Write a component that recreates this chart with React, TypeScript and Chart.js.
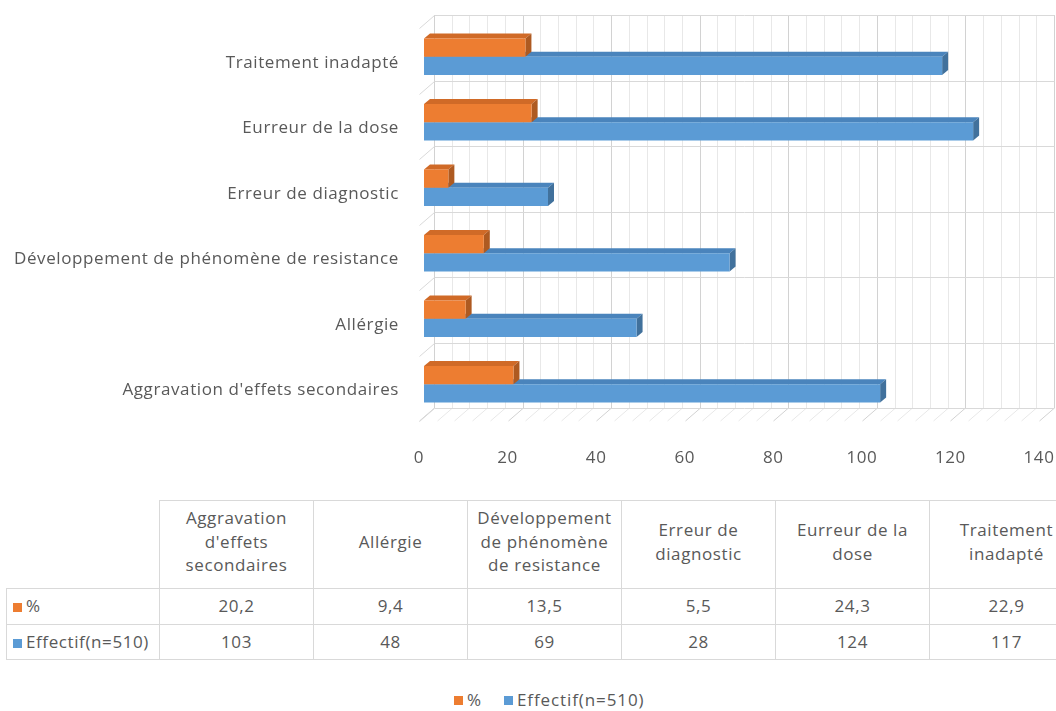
import React, { useEffect, useRef } from "react";
import { Chart, registerables } from "chart.js";

Chart.register(...registerables);

// ---------- data ----------
const categories = [
  "Aggravation d'effets secondaires",
  "Allérgie",
  "Développement de phénomène de resistance",
  "Erreur de diagnostic",
  "Eurreur de la dose",
  "Traitement inadapté",
];
const headerLines = [
  ["Aggravation", "d'effets", "secondaires"],
  ["Allérgie"],
  ["Développement", "de phénomène", "de resistance"],
  ["Erreur de", "diagnostic"],
  ["Eurreur de la", "dose"],
  ["Traitement", "inadapté"],
];
const seriesNames = ["%", "Effectif(n=510)"];
const percentValues = [20.2, 9.4, 13.5, 5.5, 24.3, 22.9];
const effectifValues = [103, 48, 69, 28, 124, 117];
const xMin = 0;
const xMax = 140;
const xStep = 20;
const minorStep = 4;

// ---------- styles ----------
const FONT = "'Open Sans', sans-serif";
const FONT_SIZE = 17;
const LETTER = "0.6px";
const TEXT = "#595959";
const ORANGE = "#ED7D31";
const BLUE = "#5B9BD5";
const faceColors = [
  { top: "#D06A27", side: "#AE5A21" },
  { top: "#4A84BC", side: "#41719C" },
];
const WALL_DX = 15;
const WALL_DY = -13;
const BAR_DX = 5;
const BAR_DY = -4;
const FACE_DX = 6;
const FACE_DY = -5;

const fmt = (v: number) => String(v).replace(".", ",");

const spacing = {
  id: "spacing",
  beforeUpdate(chart: any) { chart.ctx.letterSpacing = LETTER; },
  beforeDraw(chart: any) { chart.ctx.letterSpacing = LETTER; },
};

const wall3d = {
  id: "wall3d",
  beforeDatasetsDraw(chart: any) {
    const { ctx, chartArea: ca, scales } = chart;
    const x = scales.x;
    ctx.save();
    ctx.lineWidth = 1;
    const bottomBack = ca.bottom + WALL_DY;
    const topBack = ca.top + WALL_DY;
    for (let v = xMin; v <= xMax; v += minorStep) {
      const px = Math.round(x.getPixelForValue(v)) + 0.5;
      const major = v % xStep === 0;
      ctx.strokeStyle = major ? "#D2D2D2" : "#E8E8E8";
      ctx.beginPath();
      ctx.moveTo(px + WALL_DX, topBack);
      ctx.lineTo(px + WALL_DX, bottomBack);
      ctx.moveTo(px + WALL_DX, bottomBack);
      ctx.lineTo(px, ca.bottom);
      ctx.stroke();
    }
    const n = categories.length;
    const band = (ca.bottom - ca.top) / n;
    const x0 = Math.round(x.getPixelForValue(xMin)) + 0.5;
    const x1 = Math.round(x.getPixelForValue(xMax)) + 0.5;
    ctx.strokeStyle = "#D9D9D9";
    for (let k = 0; k <= n; k++) {
      const py = Math.round(ca.top + k * band) + 0.5;
      ctx.beginPath();
      ctx.moveTo(x0 + WALL_DX, py + WALL_DY);
      ctx.lineTo(x1 + WALL_DX, py + WALL_DY);
      ctx.moveTo(x0 + WALL_DX, py + WALL_DY);
      ctx.lineTo(x0, py);
      ctx.stroke();
    }
    ctx.restore();

    ctx.save();
    ctx.translate(BAR_DX, BAR_DY);
    const metas = chart.getSortedVisibleDatasetMetas();
    for (const pass of ["top", "side"]) {
      metas.forEach((meta: any) => {
        const colors = faceColors[meta.index];
        meta.data.forEach((el: any) => {
          const p = el.getProps(["x", "y", "base", "height"], true);
          const left = Math.min(p.x, p.base);
          const right = Math.max(p.x, p.base);
          const top = p.y - p.height / 2;
          const bottom = p.y + p.height / 2;
          ctx.beginPath();
          if (pass === "top") {
            ctx.fillStyle = colors.top;
            ctx.moveTo(left, top);
            ctx.lineTo(left + FACE_DX, top + FACE_DY);
            ctx.lineTo(right + FACE_DX, top + FACE_DY);
            ctx.lineTo(right, top);
          } else {
            ctx.fillStyle = colors.side;
            ctx.moveTo(right, top);
            ctx.lineTo(right + FACE_DX, top + FACE_DY);
            ctx.lineTo(right + FACE_DX, bottom + FACE_DY);
            ctx.lineTo(right, bottom);
          }
          ctx.closePath();
          ctx.fill();
        });
      });
    }
  },
  afterDatasetsDraw(chart: any) {
    chart.ctx.restore();
  },
};

function BarChart() {
  const ref = useRef<HTMLCanvasElement | null>(null);
  useEffect(() => {
    if (!ref.current) return;
    const chart = new Chart(ref.current, {
      type: "bar",
      data: {
        labels: categories,
        datasets: [
          { label: seriesNames[0], data: percentValues, backgroundColor: ORANGE, clip: false as any },
          { label: seriesNames[1], data: effectifValues, backgroundColor: BLUE, clip: false as any },
        ],
      },
      options: {
        indexAxis: "y",
        animation: false,
        responsive: true,
        maintainAspectRatio: false,
        layout: { padding: { top: 28, right: 17, left: 0, bottom: 0 } },
        plugins: { legend: { display: false }, tooltip: { enabled: false } },
        datasets: { bar: { categoryPercentage: 0.56, barPercentage: 1 } },
        scales: {
          x: {
            min: xMin,
            max: xMax,
            ticks: { stepSize: xStep, padding: 27, color: TEXT, font: { family: FONT, size: FONT_SIZE } },
            grid: { display: false, drawTicks: false },
            border: { display: false },
            afterFit: (s: any) => { s.height = 59; s.paddingLeft = 0; s.paddingRight = 0; },
          },
          y: {
            reverse: true,
            ticks: { padding: 20, labelOffset: 2, color: TEXT, font: { family: FONT, size: FONT_SIZE } },
            grid: { display: false, drawTicks: false },
            border: { display: false },
            afterFit: (s: any) => { s.width = 419; s.paddingTop = 0; s.paddingBottom = 0; },
          },
        },
      } as any,
      plugins: [spacing, wall3d],
    });
    return () => chart.destroy();
  }, []);
  return (
    <div style={{ position: "absolute", left: 0, top: 0, width: 1056, height: 480 }}>
      <canvas ref={ref} />
    </div>
  );
}

const cellBase: React.CSSProperties = {
  border: "1px solid #D9D9D9",
  textAlign: "center",
  verticalAlign: "middle",
  padding: 0,
  lineHeight: "24px",
  whiteSpace: "nowrap",
  overflow: "hidden",
};

function Swatch({ color }: { color: string }) {
  return <span style={{ display: "inline-block", width: 9, height: 9, background: color, marginRight: 4 }} />;
}

export default function App() {
  const rows = [
    { name: seriesNames[0], color: ORANGE, values: percentValues },
    { name: seriesNames[1], color: BLUE, values: effectifValues },
  ];
  return (
    <div style={{ position: "fixed", left: 0, top: 0, width: 1056, height: 711, overflow: "hidden", background: "#fff", fontFamily: FONT, color: TEXT, letterSpacing: LETTER }}>
      <BarChart />
      <table style={{ position: "absolute", left: 6, top: 500, borderCollapse: "collapse", tableLayout: "fixed", fontSize: FONT_SIZE, width: 153 + 154 * 6 }}>
        <colgroup>
          <col style={{ width: 153 }} />
          {categories.map((c) => <col key={c} style={{ width: 154 }} />)}
        </colgroup>
        <tbody>
          <tr style={{ height: 88 }}>
            <td style={{ ...cellBase, borderTop: "none", borderLeft: "none" }} />
            {headerLines.map((lines, i) => (
              <td key={i} style={{ ...cellBase, lineHeight: "23.5px", paddingBottom: 6 }}>
                {lines.map((l, j) => <div key={j}>{l}</div>)}
              </td>
            ))}
          </tr>
          {rows.map((r) => (
            <tr key={r.name} style={{ height: 35.5 }}>
              <td style={{ ...cellBase, textAlign: "left", paddingLeft: 6 }}>
                <Swatch color={r.color} />{r.name}
              </td>
              {r.values.map((v, i) => <td key={i} style={cellBase}>{fmt(v)}</td>)}
            </tr>
          ))}
        </tbody>
      </table>
      <div style={{ position: "absolute", left: 454, top: 688, display: "flex", alignItems: "center", fontSize: FONT_SIZE, lineHeight: "24px", letterSpacing: "0.9px" }}>
        <Swatch color={ORANGE} />
        <span>{seriesNames[0]}</span>
        <span style={{ display: "inline-block", width: 22 }} />
        <Swatch color={BLUE} />
        <span>{seriesNames[1]}</span>
      </div>
    </div>
  );
}
